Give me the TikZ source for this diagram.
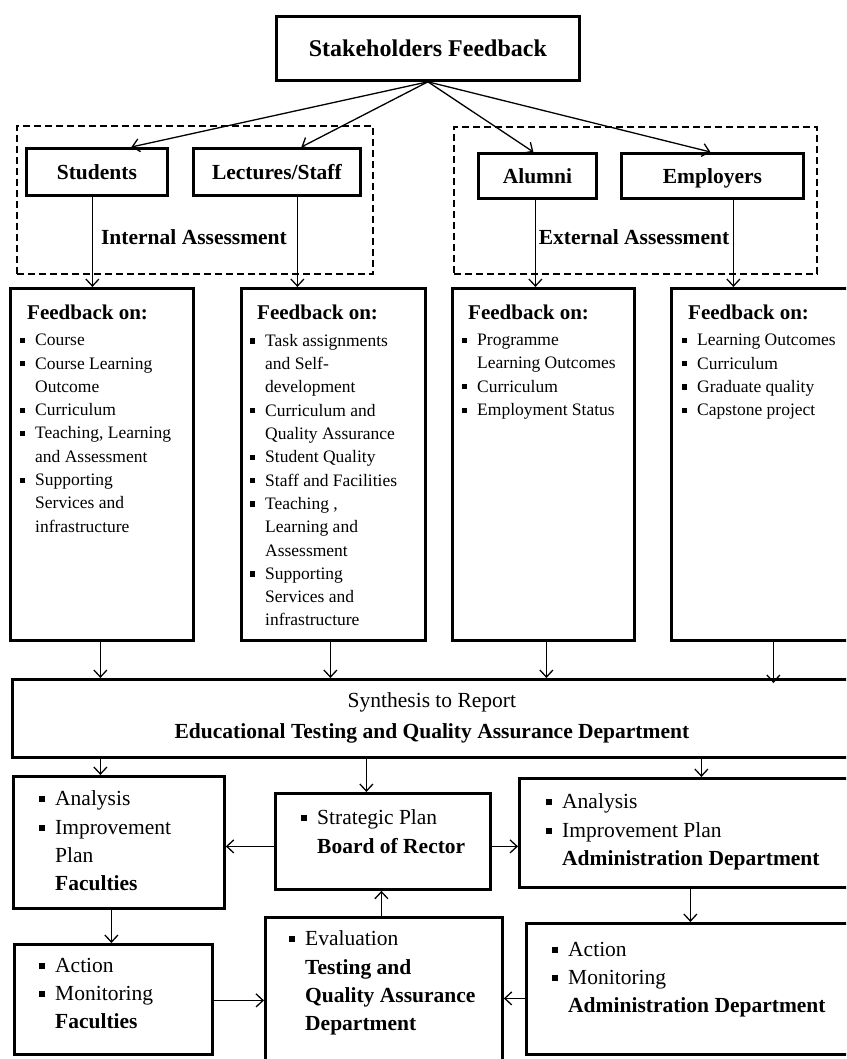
\documentclass[tikz,border=0pt]{standalone}
\usepackage{fontspec}
\setmainfont{Liberation Serif}
\usetikzlibrary{arrows.meta,calc}
\newcommand\fbul{\makebox[15pt][l]{\rule[0.16em]{0.3em}{0.3em}}}
\newcommand\fcont{\hspace*{15pt}}
\newcommand\bbul{\makebox[16pt][l]{\rule[0.16em]{0.28em}{0.28em}}}
\newcommand\bcont{\hspace*{16pt}}
\tikzset{
  box/.style={draw, line width=2.8pt, rectangle, inner sep=0pt, anchor=north west},
  dashbox/.style={draw, line width=2pt, dash pattern=on 7pt off 4pt, rectangle, inner sep=0pt, anchor=north west},
  arr/.style={-{Straight Barb[length=7pt,width=13pt]}, line width=1.3pt},
  ftxt/.style={anchor=north west, align=left, inner sep=0pt, font=\fontsize{17.5}{23.3}\selectfont},
  fhead/.style={anchor=west, inner sep=0pt, font=\fontsize{21}{25}\selectfont\bfseries},
  btxt/.style={anchor=north west, align=left, inner sep=0pt, font=\fontsize{21.5}{28.3}\selectfont},
  lbl/.style={font=\fontsize{21.5}{25}\selectfont\bfseries, inner sep=0pt, text height=14.6pt, text depth=0pt}
}
\begin{document}
\begin{tikzpicture}[x=1pt,y=1pt]
\useasboundingbox (0,0) rectangle (846,-1059);
\clip (0,0) rectangle (846,-1059);
% top
\node[box, minimum width=303, minimum height=64, text height=16.3pt, text depth=0pt, font=\fontsize{24}{28}\selectfont\bfseries] (sf) at (275,-15) {Stakeholders Feedback};
\node[dashbox, minimum width=356, minimum height=148] (intbox) at (16,-125) {};
\node[dashbox, minimum width=363, minimum height=147] (extbox) at (453,-126) {};
\node[lbl] (intlbl) at (194,-237) {Internal Assessment};
\node[lbl] (extlbl) at (634,-237) {External Assessment};
\node[box, lbl, anchor=north west, minimum width=141, minimum height=47] (stu) at (25,-147) {Students};
\node[box, lbl, anchor=north west, minimum width=167, minimum height=47] (lec) at (192,-147) {Lectures/Staff};
\node[box, lbl, anchor=north west, minimum width=118, minimum height=45] (alu) at (477,-152) {Alumni};
\node[box, lbl, anchor=north west, minimum width=182, minimum height=45] (emp) at (620,-152) {Employers};
% feedback boxes
\node[box, minimum width=183, minimum height=352] (fb1) at (9,-287) {};
\node[box, minimum width=184, minimum height=352] (fb2) at (240,-287) {};
\node[box, minimum width=182, minimum height=352] (fb3) at (451,-287) {};
\node[box, minimum width=180, minimum height=352] (fb4) at (670,-287) {};
\node[fhead] (fb1h) at (27,-312) {Feedback on:};
\node[fhead] (fb2h) at (257,-312) {Feedback on:};
\node[fhead] (fb3h) at (468,-312) {Feedback on:};
\node[fhead] (fb4h) at (688,-312) {Feedback on:};
\node[ftxt] (fb1t) at (20,-334) {\fbul Course\\
\fbul Course Learning\\
\fcont Outcome\\
\fbul Curriculum\\
\fbul Teaching, Learning\\
\fcont and Assessment\\
\fbul Supporting\\
\fcont Services and\\
\fcont infrastructure};
\node[ftxt] (fb2t) at (250,-334) {\fbul Task assignments\\
\fcont and Self-\\
\fcont development\\
\fbul Curriculum and\\
\fcont Quality Assurance\\
\fbul Student Quality\\
\fbul Staff and Facilities\\
\fbul Teaching ,\\
\fcont Learning and\\
\fcont Assessment\\
\fbul Supporting\\
\fcont Services and\\
\fcont infrastructure};
\node[ftxt] (fb3t) at (462,-334) {\fbul Programme\\
\fcont Learning Outcomes\\
\fbul Curriculum\\
\fbul Employment Status};
\node[ftxt] (fb4t) at (682,-334) {\fbul Learning Outcomes\\
\fbul Curriculum\\
\fbul Graduate quality\\
\fbul Capstone project};
% synthesis
\node[box, minimum width=839, minimum height=78, align=center, font=\fontsize{21.5}{31}\selectfont] (syn) at (11,-678) {Synthesis to Report\\\textbf{Educational Testing and Quality Assurance Department}};
% bottom boxes
\node[box, minimum width=211, minimum height=132] (faca) at (12,-775) {};
\node[box, minimum width=215, minimum height=96] (board) at (274,-792) {};
\node[box, minimum width=332, minimum height=109] (adma) at (518,-777) {};
\node[box, minimum width=198, minimum height=110] (facb) at (13,-943) {};
\node[box, minimum width=237, minimum height=149] (eval) at (264,-916) {};
\node[box, minimum width=325, minimum height=131] (admb) at (525,-922) {};
\node[btxt] (facat) at (39,-790.7) {\bbul Analysis\\\bbul Improvement\\\bcont Plan\\\bcont\textbf{Faculties}};
\node[btxt] (boardt) at (301,-809.7) {\bbul Strategic Plan\\\bcont\textbf{Board of Rector}};
\node[btxt] (admat) at (546,-793.7) {\bbul Analysis\\\bbul Improvement Plan\\\bcont\textbf{Administration Department}};
\node[btxt] (facbt) at (39,-957.7) {\bbul Action\\\bbul Monitoring\\\bcont\textbf{Faculties}};
\node[btxt] (evalt) at (289,-930.7) {\bbul Evaluation\\\bcont\textbf{Testing and}\\\bcont\textbf{Quality Assurance}\\\bcont\textbf{Department}};
\node[btxt] (admbt) at (552,-941.7) {\bbul Action\\\bbul Monitoring\\\bcont\textbf{Administration Department}};
% arrows top
\draw[arr] (sf.south) -- ([xshift=34.5pt]stu.north);
\draw[arr] (sf.south) -- ([xshift=24.5pt]lec.north);
\draw[arr] (sf.south) -- ([xshift=-4pt]alu.north);
\draw[arr] (sf.south) -- ([xshift=-2pt]emp.north);
\coordinate (c1) at ([xshift=-4.5pt]stu.south);
\coordinate (c2) at ([xshift=20.5pt]lec.south);
\coordinate (c3) at ([xshift=-2pt]alu.south);
\coordinate (c4) at ([xshift=21pt]emp.south);
\draw[arr] (c1) -- (c1 |- fb1.north);
\draw[arr] (c2) -- (c2 |- fb2.north);
\draw[arr] (c3) -- (c3 |- fb3.north);
\draw[arr] (c4) -- (c4 |- fb4.north);
\coordinate (d1) at ([xshift=-1.5pt]fb1.south);
\coordinate (d2) at ([xshift=-3pt]fb2.south);
\coordinate (d3) at ([xshift=3pt]fb3.south);
\coordinate (d4) at ([xshift=12pt]fb4.south);
\draw[arr] (d1) -- (d1 |- syn.north);
\draw[arr] (d2) -- (d2 |- syn.north);
\draw[arr] (d3) -- (d3 |- syn.north);
\draw[arr] (d4) -- ([yshift=-5pt]d4 |- syn.north);
\coordinate (s1) at ([xshift=-331.5pt]syn.south);
\coordinate (s2) at ([xshift=-65.5pt]syn.south);
\coordinate (s3) at ([xshift=269.5pt]syn.south);
\draw[arr] (s1) -- (s1 |- faca.north);
\draw[arr] (s2) -- (s2 |- board.north);
\draw[arr] (s3) -- (s3 |- adma.north);
\coordinate (b1) at ([yshift=-5pt]board.west);
\coordinate (b2) at ([yshift=-5pt]board.east);
\draw[arr] (b1) -- (b1 -| faca.east);
\draw[arr] (b2) -- (b2 -| adma.west);
\coordinate (f1) at ([xshift=-7.5pt]faca.south);
\draw[arr] (f1) -- (f1 |- facb.north);
\coordinate (a1) at ([xshift=5pt]adma.south);
\draw[arr] (a1) -- (a1 |- admb.north);
\coordinate (g1) at ([yshift=-1pt]facb.east);
\draw[arr] (g1) -- (g1 -| eval.west);
\coordinate (g2) at ([yshift=-9.5pt]admb.west);
\draw[arr] (g2) -- (g2 -| eval.east);
\coordinate (e1) at ([xshift=-2.5pt]eval.north);
\draw[arr] (e1) -- (e1 |- board.south);
\end{tikzpicture}
\end{document}
